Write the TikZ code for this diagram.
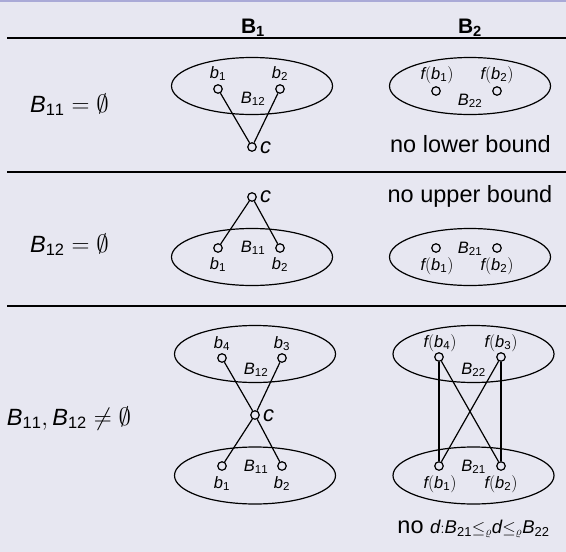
\documentclass[tikz,border=0pt]{standalone}
\usepackage{fontspec}
\setmainfont{Liberation Sans}
\newfontfamily\lsans{Liberation Sans}[NFSSFamily=lsans]
\DeclareSymbolFont{sfops}{TU}{lsans}{m}{n}
\DeclareMathSymbol{0}{\mathalpha}{sfops}{`0}
\DeclareMathSymbol{1}{\mathalpha}{sfops}{`1}
\DeclareMathSymbol{2}{\mathalpha}{sfops}{`2}
\DeclareMathSymbol{3}{\mathalpha}{sfops}{`3}
\DeclareMathSymbol{4}{\mathalpha}{sfops}{`4}
\DeclareMathSymbol{(}{\mathopen}{sfops}{`(}
\DeclareMathSymbol{)}{\mathclose}{sfops}{`)}
\newcommand{\sdg}[1]{\mathrm{#1}}
\usetikzlibrary{shapes.geometric}
\definecolor{bgc}{RGB}{231,231,241}
\definecolor{topc}{RGB}{170,170,215}
\tikzset{
  pt/.style={circle,draw,fill=bgc,inner sep=0pt,minimum size=8.5pt,line width=1.2pt},
  setell/.style={ellipse,draw,line width=1.2pt,minimum width=161pt,minimum height=57pt,inner sep=0pt},
  lbl/.style={font=\fontsize{16.5}{20}\selectfont,inner sep=0pt,anchor=base},
  body/.style={font=\fontsize{23.5}{28}\selectfont,inner sep=0pt,anchor=base},
  clbl/.style={font=\fontsize{22}{26}\selectfont,inner sep=0pt,anchor=base west},
  hdr/.style={font=\fontsize{21}{25}\selectfont\bfseries,inner sep=0pt,anchor=base},
  conn/.style={line width=1.2pt},
  rulel/.style={line width=2pt}
}
\begin{document}
\begin{tikzpicture}[x=1pt,y=-1pt]
\fill[bgc] (0,0) rectangle (566,552);
\useasboundingbox (0,0) rectangle (566,552);
\draw[topc,line width=1.5pt] (0,0.75) -- (566,0.75);
% header
\node[hdr] (h1) at (253,33) {B$_{\mathbf{1}}$};
\node[hdr] (h2) at (470,33) {B$_{\mathbf{2}}$};
\coordinate (r0a) at (7,38); \coordinate (r0b) at (566,38);
\draw[rulel] (r0a) -- (r0b);
\coordinate (r1a) at (7,172); \coordinate (r1b) at (566,172);
\draw[rulel] (r1a) -- (r1b);
\coordinate (r2a) at (7,306); \coordinate (r2b) at (566,306);
\draw[rulel] (r2a) -- (r2b);
% left labels
\node[body] (L1) at (69.5,112) {$\mathit{B}_{\sdg{11}}=\emptyset$};
\node[body] (L2) at (69.5,252) {$\mathit{B}_{\sdg{12}}=\emptyset$};
\node[body] (L3) at (69,425) {$\mathit{B}_{\sdg{11}},\mathit{B}_{\sdg{12}}\neq\emptyset$};
% row 1, B1
\node[setell] (e11) at (252,86) {};
\node[pt] (a1) at (218,89) {};
\node[pt] (a2) at (280,89) {};
\node[pt] (ac) at (252,147) {};
\node[lbl] (a1l) at (218,78) {$\mathit{b}_{\sdg{1}}$};
\node[lbl] (a2l) at (280,78) {$\mathit{b}_{\sdg{2}}$};
\node[lbl] (aBl) at (253,103) {$\mathit{B}_{\sdg{12}}$};
\node[clbl] (acl) at (260,153) {$\mathit{c}$};
\draw[conn] (a1) -- (ac);
\draw[conn] (a2) -- (ac);
% row 1, B2
\node[setell] (e12) at (470,86) {};
\node[pt] (f1) at (436,91) {};
\node[pt] (f2) at (497,91) {};
\node[lbl] (f1l) at (437,79) {$\mathit{f}\sdg{(}\mathit{b}_{\sdg{1}}\sdg{)}$};
\node[lbl] (f2l) at (497,79) {$\mathit{f}\sdg{(}\mathit{b}_{\sdg{2}}\sdg{)}$};
\node[lbl] (fBl) at (470,105) {$\mathit{B}_{\sdg{22}}$};
\node[body] (nlb) at (470.5,152) {no lower bound};
% row 2, B1
\node[pt] (gc) at (252,197) {};
\node[clbl] (gcl) at (260,202) {$\mathit{c}$};
\node[setell] (e21) at (252,257) {};
\node[pt] (g1) at (218,248) {};
\node[pt] (g2) at (280,248) {};
\node[lbl] (gBl) at (253,252) {$\mathit{B}_{\sdg{11}}$};
\node[lbl] (g1l) at (218,269) {$\mathit{b}_{\sdg{1}}$};
\node[lbl] (g2l) at (280,269) {$\mathit{b}_{\sdg{2}}$};
\draw[conn] (gc) -- (g1);
\draw[conn] (gc) -- (g2);
% row 2, B2
\node[body] (nub) at (470,202) {no upper bound};
\node[setell] (e22) at (470,257) {};
\node[pt] (k1) at (436,248) {};
\node[pt] (k2) at (497,248) {};
\node[lbl] (kBl) at (470,253) {$\mathit{B}_{\sdg{21}}$};
\node[lbl] (k1l) at (437,270) {$\mathit{f}\sdg{(}\mathit{b}_{\sdg{1}}\sdg{)}$};
\node[lbl] (k2l) at (497,270) {$\mathit{f}\sdg{(}\mathit{b}_{\sdg{2}}\sdg{)}$};
% row 3, B1
\node[setell] (e31t) at (255,354) {};
\node[setell] (e31b) at (255,475.5) {};
\node[pt] (m4) at (222,358) {};
\node[pt] (m3) at (282,358) {};
\node[pt] (mc) at (255,415) {};
\node[pt] (m1) at (222,466) {};
\node[pt] (m2) at (282,466) {};
\node[lbl] (m4l) at (222,348) {$\mathit{b}_{\sdg{4}}$};
\node[lbl] (m3l) at (282,348) {$\mathit{b}_{\sdg{3}}$};
\node[lbl] (mBt) at (256,374) {$\mathit{B}_{\sdg{12}}$};
\node[clbl] (mcl) at (263,421) {$\mathit{c}$};
\node[lbl] (mBb) at (256,471) {$\mathit{B}_{\sdg{11}}$};
\node[lbl] (m1l) at (222,488) {$\mathit{b}_{\sdg{1}}$};
\node[lbl] (m2l) at (282,488) {$\mathit{b}_{\sdg{2}}$};
\draw[conn] (m4) -- (mc);
\draw[conn] (m3) -- (mc);
\draw[conn] (mc) -- (m1);
\draw[conn] (mc) -- (m2);
% row 3, B2
\node[setell] (e32t) at (473.5,354) {};
\node[setell] (e32b) at (473.5,475.5) {};
\node[pt] (n4) at (439,357) {};
\node[pt] (n3) at (501,357) {};
\node[pt] (n1) at (439,466) {};
\node[pt] (n2) at (501,466) {};
\node[lbl] (n4l) at (440,347) {$\mathit{f}\sdg{(}\mathit{b}_{\sdg{4}}\sdg{)}$};
\node[lbl] (n3l) at (501,347) {$\mathit{f}\sdg{(}\mathit{b}_{\sdg{3}}\sdg{)}$};
\node[lbl] (nBt) at (473.5,374) {$\mathit{B}_{\sdg{22}}$};
\node[lbl] (nBb) at (473.5,471) {$\mathit{B}_{\sdg{21}}$};
\node[lbl] (n1l) at (440,488) {$\mathit{f}\sdg{(}\mathit{b}_{\sdg{1}}\sdg{)}$};
\node[lbl] (n2l) at (501,488) {$\mathit{f}\sdg{(}\mathit{b}_{\sdg{2}}\sdg{)}$};
\draw[conn] (n4) -- (n1);
\draw[conn] (n3) -- (n2);
\draw[conn] (n4) -- (n2);
\draw[conn] (n3) -- (n1);
\node[body] (nod) at (473.5,533) {no {\fontsize{18.5}{22}\selectfont$\mathit{d}{:}\mathit{B}_{\sdg{21}}{\le_\varrho}\mathit{d}{\le_\varrho}\mathit{B}_{\sdg{22}}$}};
\end{tikzpicture}
\end{document}
